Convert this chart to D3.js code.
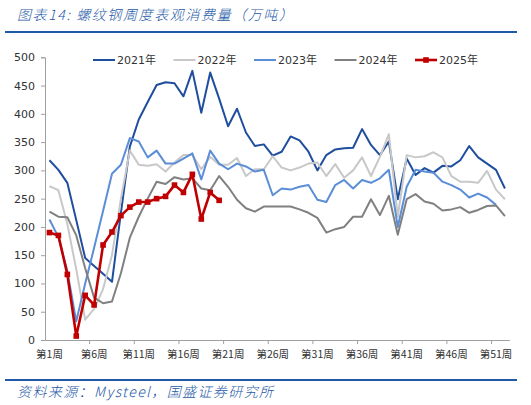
<!DOCTYPE html>
<html>
<head>
<meta charset="utf-8">
<script src="https://cdn.jsdelivr.net/npm/d3@7/dist/d3.min.js"></script>
<style>
  body { margin: 0; background: #fff; }
  svg { display: block; font-family: "DejaVu Sans", "Noto Sans CJK SC", sans-serif; }
</style>
</head>
<body>
<svg id="chart" width="531" height="405"></svg>
<script>
// data (万吨)
const weeks = d3.range(1, 53)
const weekLabels = [1, 6, 11, 16, 21, 26, 31, 36, 41, 46, 51]
const yTicks = [0, 50, 100, 150, 200, 250, 300, 350, 400, 450, 500]
const seriesNames = ["2021年", "2022年", "2023年", "2024年", "2025年"]
const seriesColors = ["#1f4e9e", "#c8c8c8", "#5b8ed6", "#808080", "#c00000"]

const v2021 = [318, 301, 278, 212, 145, 131, 117, 103, 225, 342, 390, 421, 451, 456, 454, 431, 476, 402, 473, 427,
               378, 409, 367, 343, 346, 326, 333, 360, 353, 333, 300, 327, 337, 339, 340, 373, 345, 327, 351, 249,
               321, 292, 304, 296, 308, 307, 318, 343, 323, 312, 301, 268]
const v2022 = [272, 265, 205, 125, 36, 55, 90, 150, 250, 335, 310, 308, 311, 298, 314, 327, 327, 302, 324, 310,
               310, 322, 290, 302, 302, 325, 305, 300, 305, 312, 314, 290, 311, 287, 300, 323, 290, 324, 364, 218,
               327, 323, 325, 332, 323, 290, 280, 280, 278, 299, 266, 249]
const v2023 = [213, 182, 122, 33, 100, 163, 228, 294, 310, 357, 351, 323, 335, 312, 312, 321, 330, 284, 335, 312,
               302, 312, 307, 298, 301, 256, 268, 266, 271, 274, 248, 244, 274, 283, 268, 283, 278, 286, 301, 200,
               271, 301, 298, 296, 280, 274, 266, 252, 259, 252, 239]
const v2024 = [227, 218, 217, 185, 127, 75, 65, 68, 118, 181, 218, 250, 280, 276, 288, 284, 286, 268, 265, 290,
               271, 248, 233, 227, 236, 236, 236, 236, 231, 225, 216, 190, 196, 200, 218, 218, 249, 221, 255, 186,
               249, 258, 245, 241, 229, 231, 235, 225, 230, 237, 238, 219]
const v2025 = [190, 185, 116, 7, 79, 62, 168, 191, 220, 235, 244, 244, 250, 254, 274, 261, 293, 214, 261, 247]

const seriesValues = [v2021, v2022, v2023, v2024, v2025]

const svg = d3.select("#chart")
const titleColor = "#1f5aa8"

// title + rules
svg.append("text")
   .attr("x", 17)
   .attr("y", 20)
   .attr("font-size", 14)
   .attr("font-style", "italic")
   .attr("letter-spacing", 1.6)
   .attr("fill", titleColor)
   .attr("font-family", "'Noto Sans CJK SC', sans-serif")
   .attr("font-weight", 300)
   .text("图表14:  螺纹钢周度表观消费量（万吨）")

svg.append("line")
   .attr("x1", 5).attr("x2", 517)
   .attr("y1", 32).attr("y2", 32)
   .attr("stroke", titleColor)
   .attr("stroke-width", 2)

svg.append("line")
   .attr("x1", 5).attr("x2", 517)
   .attr("y1", 380).attr("y2", 380)
   .attr("stroke", titleColor)
   .attr("stroke-width", 2)

svg.append("text")
   .attr("x", 17)
   .attr("y", 397)
   .attr("font-size", 14)
   .attr("font-style", "italic")
   .attr("letter-spacing", 1.4)
   .attr("fill", titleColor)
   .attr("font-family", "'Noto Sans CJK SC', sans-serif")
   .attr("font-weight", 300)
   .text("资料来源：Mysteel，国盛证券研究所")

// scales
const x = d3.scaleBand().domain(weeks).range([45, 509.4])
const y = d3.scaleLinear().domain([0, 500]).range([340, 57.3])
const cx = w => x(w) + x.bandwidth() / 2

// y axis
const yAxis = svg.append("g")
   .attr("transform", "translate(45,0)")
   .call(d3.axisLeft(y).tickValues(yTicks).tickSize(4).tickPadding(6))
yAxis.select(".domain").attr("stroke", "#a0a0a0")
yAxis.selectAll(".tick line").attr("stroke", "#a0a0a0")
yAxis.selectAll("text")
     .attr("font-size", 11)
     .attr("fill", "#333")
     .attr("font-family", "Tahoma, 'DejaVu Sans', sans-serif")

// x axis
const xAxis = svg.append("g")
   .attr("transform", "translate(0,340)")
   .call(d3.axisBottom(x).tickValues(weekLabels).tickSize(0).tickPadding(11)
           .tickFormat(d => "第" + d + "周"))
xAxis.select(".domain").attr("stroke", "#a0a0a0")
xAxis.selectAll("text")
     .attr("font-size", 10.5)
     .attr("fill", "#333")
     .attr("font-family", "'Noto Sans CJK SC', sans-serif")

// tick marks between categories, every 5 weeks
svg.append("g")
   .selectAll("line")
   .data(weekLabels.slice(1))
   .enter()
   .append("line")
   .attr("x1", d => x(d)).attr("x2", d => x(d))
   .attr("y1", 340).attr("y2", 344)
   .attr("stroke", "#a0a0a0")

// lines
const line = d3.line()
   .x((d, i) => cx(weeks[i]))
   .y(d => y(d))

svg.append("g")
   .selectAll("path")
   .data(seriesValues)
   .enter()
   .append("path")
   .attr("d", d => line(d))
   .attr("fill", "none")
   .attr("stroke", (d, i) => seriesColors[i])
   .attr("stroke-width", (d, i) => i == 4 ? 2.6 : 2)
   .attr("stroke-linejoin", "round")

// 2025 square markers
svg.append("g")
   .selectAll("rect")
   .data(v2025)
   .enter()
   .append("rect")
   .attr("x", (d, i) => cx(weeks[i]) - 2.8)
   .attr("y", d => y(d) - 2.8)
   .attr("width", 5.6)
   .attr("height", 5.6)
   .attr("fill", seriesColors[4])

// legend
const legend = svg.append("g")
   .selectAll("g")
   .data(seriesNames)
   .enter()
   .append("g")
   .attr("transform", (d, i) => "translate(" + (93 + i * 80.5) + ",60)")

legend.append("line")
   .attr("x1", 0).attr("x2", 22)
   .attr("y1", 0).attr("y2", 0)
   .attr("stroke", (d, i) => seriesColors[i])
   .attr("stroke-width", (d, i) => i == 4 ? 2.6 : 2)

legend.filter((d, i) => i == 4)
   .append("rect")
   .attr("x", 8.2).attr("y", -2.8)
   .attr("width", 5.6).attr("height", 5.6)
   .attr("fill", seriesColors[4])

legend.append("text")
   .attr("x", 24)
   .attr("y", 4)
   .attr("font-size", 11)
   .attr("fill", "#333")
   .text(d => d)
</script>
</body>
</html>
